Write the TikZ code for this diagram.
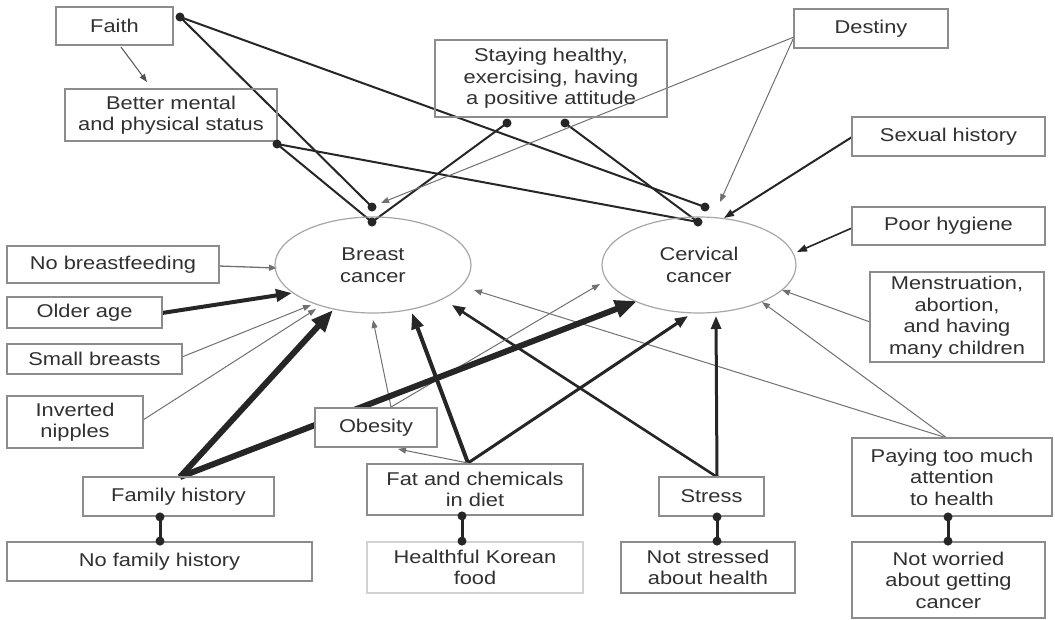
\documentclass[tikz,border=0pt]{standalone}
\usepackage{fontspec}
\setmainfont{Liberation Sans}[FakeStretch=1.18]
\usetikzlibrary{arrows.meta,shapes.geometric}
\definecolor{txt}{HTML}{303030}
\definecolor{bord}{HTML}{8C8C8C}
\definecolor{ln}{HTML}{262626}
\definecolor{lt}{HTML}{707070}
\pgfdeclarelayer{bg}
\pgfsetlayers{bg,main}
\begin{document}
\begin{tikzpicture}[x=1pt,y=-1pt,
  lbl/.style={text=txt,font=\fontsize{18.5}{21.5}\selectfont,align=center},
  box/.style={lbl,draw=bord,line width=1.8pt,inner sep=0pt},
  ell/.style={lbl,ellipse,draw=gray!70,line width=1.2pt,inner sep=0pt},
  dotc/.style={circle,fill=ln,inner sep=0pt,minimum size=9pt},
  thinarr/.style={draw=lt,line width=1pt,-{Triangle[length=8pt,width=6pt]}},
  medarr/.style={draw=ln,line width=2pt,-{Triangle[length=10pt,width=7pt]}},
  boldarr/.style={draw=ln,line width=3pt,-{Triangle[length=13pt,width=10pt]}},
  heavyarr/.style={draw=ln,line width=4pt,-{Triangle[length=16pt,width=12pt]}},
  hugearr/.style={draw=ln,line width=6pt,-{Triangle[length=22pt,width=17pt]}},
  balllink/.style={draw=ln,line width=2pt},
  pairlink/.style={draw=ln,line width=3pt}
]
\useasboundingbox (0,0) rectangle (1055,619);
% ellipses
\node[ell,minimum width=196pt,minimum height=96pt] (breast) at (373,265) {Breast\\cancer};
\node[ell,minimum width=194pt,minimum height=96pt] (cervical) at (699,265) {Cervical\\cancer};
% boxes
\node[box,minimum width=117pt,minimum height=38pt] (faith) at (114.5,26) {Faith};
\node[box,minimum width=212pt,minimum height=52pt] (better) at (171,115) {Better mental\\and physical status};
\node[box,minimum width=232pt,minimum height=77pt] (staying) at (551,78.5) {Staying healthy,\\exercising, having\\a positive attitude};
\node[box,minimum width=154pt,minimum height=39pt] (destiny) at (871,28.5) {Destiny};
\node[box,minimum width=193pt,minimum height=39pt] (sexual) at (948.5,136.5) {Sexual history};
\node[box,minimum width=193pt,minimum height=38pt] (hygiene) at (948.5,226) {Poor hygiene};
\node[box,minimum width=174pt,minimum height=90pt] (menstr) at (957,317) {Menstruation,\\abortion,\\and having\\many children};
\node[box,minimum width=212pt,minimum height=37pt] (nobreast) at (113,264.5) {No breastfeeding};
\node[box,minimum width=155pt,minimum height=31pt] (older) at (84.5,312.5) {Older age};
\node[box,minimum width=175pt,minimum height=30pt] (small) at (94.5,359) {Small breasts};
\node[box,minimum width=136pt,minimum height=52pt] (inverted) at (75,422) {Inverted\\nipples};
\node[box,fill=white,minimum width=122pt,minimum height=39pt] (obesity) at (376,427.5) {Obesity};
\node[box,minimum width=191pt,minimum height=39pt] (family) at (178.5,496.5) {Family history};
\node[box,minimum width=305pt,minimum height=39pt] (nofamily) at (159.5,561.5) {No family history};
\node[box,minimum width=216pt,minimum height=51pt] (fat) at (475,489.5) {Fat and chemicals\\in diet};
\node[box,draw=gray!35,minimum width=216pt,minimum height=51pt] (healthful) at (475,567.5) {Healthful Korean\\food};
\node[box,minimum width=105pt,minimum height=39pt] (stress) at (711.5,496.5) {Stress};
\node[box,minimum width=174pt,minimum height=51pt] (notstressed) at (708,567.5) {Not stressed\\about health};
\node[box,minimum width=200pt,minimum height=78pt] (paying) at (952,477) {Paying too much\\attention\\to health};
\node[box,minimum width=193pt,minimum height=76pt] (notworried) at (948.5,580) {Not worried\\about getting\\cancer};
% connector end points
\coordinate (faithS) at (121,47);
\coordinate (betterN) at (147,82);
\coordinate (faithD) at (180,17);
\coordinate (betterD) at (277,144);
\coordinate (stayL) at (507,123);
\coordinate (stayR) at (565,123);
\coordinate (bTopU) at (372,207);
\coordinate (bTopL) at (372,222);
\coordinate (cTopU) at (705,207);
\coordinate (cTopL) at (698,222);
\coordinate (destW) at (794,37);
\coordinate (sexW) at (852,137);
\coordinate (hygW) at (852,228);
\coordinate (menW) at (870,322);
\coordinate (payN) at (947,438);
\coordinate (stressN) at (717,477);
\coordinate (fatN) at (468,463);
\coordinate (obN) at (391,407);
\coordinate (famN) at (180,477);
\coordinate (olderE) at (162,313);
\coordinate (nobE) at (219,266);
\coordinate (smallE) at (182,357);
\coordinate (invE) at (143,420);
\begin{pgfonlayer}{bg}
% faith -> better
\draw[thinarr,draw=ln!80] (faithS) -- (betterN);
% ball-ended links
\draw[balllink] (faithD) -- (bTopU);
\draw[balllink] (faithD) -- (cTopU);
\draw[balllink] (betterD) -- (bTopL);
\draw[balllink] (betterD) -- (cTopL);
\draw[balllink] (stayL) -- (bTopL);
\draw[balllink] (stayR) -- (cTopL);
% right side
\draw[thinarr] (destW) -- (381,203);
\draw[thinarr] (destW) -- (720,202);
\draw[medarr] (sexW) -- (724,218);
\draw[medarr,line width=1.6pt] (hygW) -- (797,252);
\draw[thinarr] (menW) -- (782,290);
\draw[thinarr] (payN) -- (474,290);
\draw[thinarr] (payN) -- (762,302);
% bottom
\draw[boldarr,line width=2.6pt] (stressN) -- (452,305);
\draw[boldarr] (stressN) -- (716,316);
\draw[heavyarr] (fatN) -- (412,313);
\draw[boldarr] (fatN) -- (688,316);
\draw[thinarr] (fatN) -- (398,449);
\draw[thinarr] (obN) -- (373,320);
\draw[thinarr] (obN) -- (600,284);
\draw[hugearr] (famN) -- (333,310);
\draw[hugearr] (famN) -- (637,301);
% left
\draw[heavyarr] (olderE) -- (292,293);
\draw[thinarr,line width=1.3pt] (nobE) -- (277,268);
\draw[thinarr] (smallE) -- (311,305);
\draw[thinarr] (invE) -- (316,309);
% pairs
\draw[pairlink] (family.south -| 160,0) -- (nofamily.north -| 160,0);
\draw[pairlink] (fat.south -| 462,0) -- (healthful.north -| 462,0);
\draw[pairlink] (stress.south -| 717,0) -- (notstressed.north -| 717,0);
\draw[pairlink] (paying.south -| 948,0) -- (notworried.north -| 948,0);
\end{pgfonlayer}
% dots
\foreach \p in {faithD,betterD,stayL,stayR,bTopU,bTopL,cTopU,cTopL}
  \node[dotc] at (\p) {};
\node[dotc] at (family.south -| 160,0) {};
\node[dotc] at (nofamily.north -| 160,0) {};
\node[dotc] at (fat.south -| 462,0) {};
\node[dotc] at (healthful.north -| 462,0) {};
\node[dotc] at (stress.south -| 717,0) {};
\node[dotc] at (notstressed.north -| 717,0) {};
\node[dotc] at (paying.south -| 948,0) {};
\node[dotc] at (notworried.north -| 948,0) {};
\end{tikzpicture}
\end{document}
